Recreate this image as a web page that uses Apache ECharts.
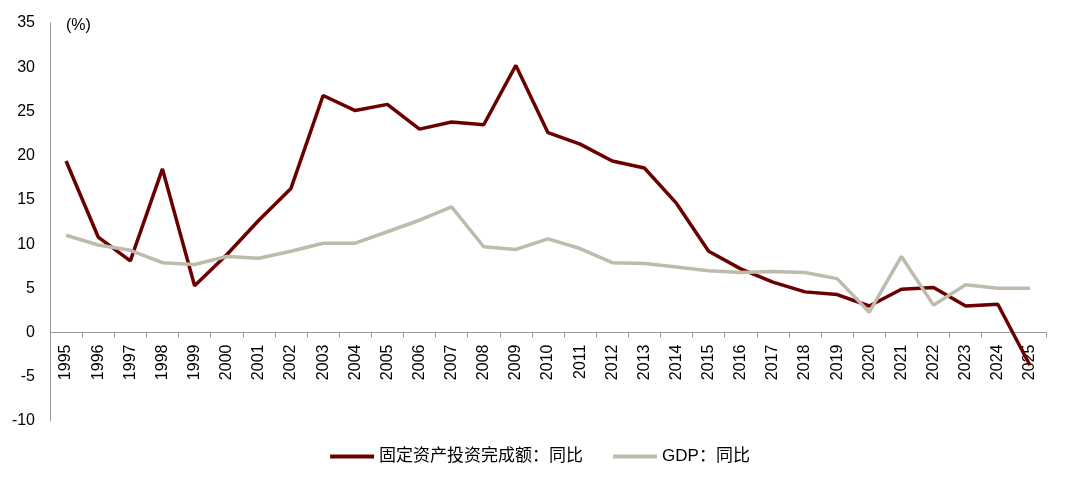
<!DOCTYPE html>
<html>
<head>
<meta charset="utf-8">
<script src="https://cdn.jsdelivr.net/npm/echarts@6/dist/echarts.min.js"></script>
<style>
  html, body { margin: 0; padding: 0; background: #fff; }
  #main { width: 1080px; height: 482px; }
</style>
</head>
<body>
<div id="main"></div>
<script>
// 年份
const years = ['1995', '1996', '1997', '1998', '1999', '2000', '2001', '2002', '2003', '2004',
    '2005', '2006', '2007', '2008', '2009', '2010', '2011', '2012', '2013', '2014',
    '2015', '2016', '2017', '2018', '2019', '2020', '2021', '2022', '2023', '2024', '2025'];
// 固定资产投资完成额：同比
const faiYoy = [19.4, 10.8, 8.1, 18.5, 5.3, 8.8, 12.7, 16.3, 26.8, 25.1,
    25.8, 23.0, 23.8, 23.5, 30.2, 22.6, 21.3, 19.4, 18.6, 14.6,
    9.2, 7.2, 5.7, 4.6, 4.3, 3.0, 4.9, 5.1, 3.0, 3.2, -3.7];
// GDP：同比
const gdpYoy = [11.0, 9.9, 9.3, 7.9, 7.7, 8.6, 8.4, 9.2, 10.1, 10.1,
    11.4, 12.7, 14.2, 9.7, 9.4, 10.6, 9.5, 7.9, 7.8, 7.4,
    7.0, 6.8, 6.9, 6.8, 6.1, 2.3, 8.6, 3.1, 5.4, 5.0, 5.0];
// 纵轴刻度
const yMin = -10, yMax = 35, yStep = 5;

const font = 'Liberation Sans, Arial, "Noto Sans CJK SC", sans-serif';
const gridTop = 23, gridBottom = 61, chartH = 482;
// 零线到底部的距离(年份标签挂在零线下)
const zeroOffset = (chartH - gridTop - gridBottom) * (0 - yMin) / (yMax - yMin);

let myChart = echarts.init(document.getElementById('main'));
let option = {
    animation: false,
    textStyle: { fontFamily: font },
    grid: {
        left: 50,
        right: 34,
        top: gridTop,
        bottom: gridBottom,
        containLabel: false
    },
    graphic: [{
        type: 'text',
        left: 66,
        top: 18,
        style: {
            text: '(%)',
            fontSize: 16,
            fontFamily: font,
            fill: '#000'
        }
    }],
    legend: {
        bottom: 12,
        left: 'center',
        icon: 'rect',
        itemWidth: 44,
        itemHeight: 4,
        itemGap: 30,
        textStyle: {
            fontSize: 17,
            color: '#000',
            fontFamily: font
        },
        data: ['固定资产投资完成额：同比', 'GDP：同比']
    },
    xAxis: [{
        type: 'category',
        data: years,
        boundaryGap: true,
        axisLine: {
            onZero: true,
            lineStyle: { color: '#999', width: 1 }
        },
        axisTick: {
            show: true,
            interval: 0,
            length: 5,
            lineStyle: { color: '#999' }
        },
        axisLabel: { show: false, interval: 0 },
        splitLine: { show: false }
    }, {
        type: 'category',
        data: years,
        position: 'bottom',
        offset: -zeroOffset,
        boundaryGap: true,
        axisLine: { show: false, onZero: false },
        axisTick: { show: false },
        axisLabel: {
            rotate: 90,
            interval: 0,
            margin: 12,
            fontSize: 16,
            color: '#000'
        },
        splitLine: { show: false }
    }],
    yAxis: {
        type: 'value',
        min: yMin,
        max: yMax,
        interval: yStep,
        axisLine: {
            show: true,
            lineStyle: { color: '#999', width: 1 }
        },
        axisTick: { show: false },
        axisLabel: {
            margin: 15,
            fontSize: 16,
            color: '#000'
        },
        splitLine: { show: false }
    },
    series: [{
        name: '固定资产投资完成额：同比',
        type: 'line',
        data: faiYoy,
        symbol: 'none',
        z: 2,
        lineStyle: { color: '#6b0000', width: 3.5 },
        itemStyle: { color: '#6b0000' }
    }, {
        name: 'GDP：同比',
        type: 'line',
        data: gdpYoy,
        symbol: 'none',
        z: 3,
        lineStyle: { color: '#bdbbab', width: 3.5 },
        itemStyle: { color: '#bdbbab' }
    }]
};
myChart.setOption(option);
</script>
</body>
</html>
